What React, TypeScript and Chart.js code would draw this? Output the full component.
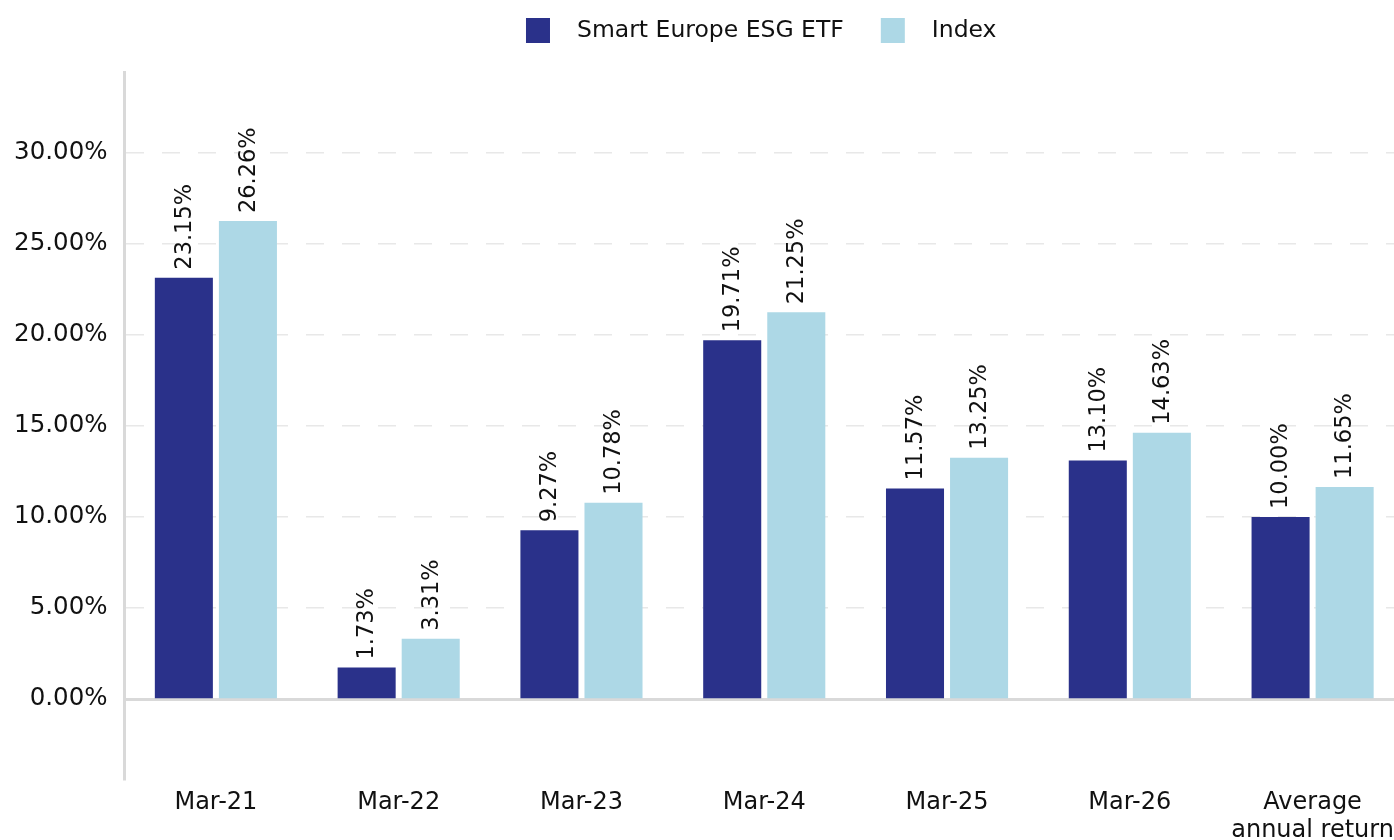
import React, { useEffect, useRef } from "react";
import { Chart, registerables } from "chart.js";

Chart.register(...registerables);

const categories: (string | string[])[] = ["Mar-21", "Mar-22", "Mar-23", "Mar-24", "Mar-25", "Mar-26", ["Average", "annual return"]];
const etfValues = [23.15, 1.73, 9.27, 19.71, 11.57, 13.1, 10.0];
const indexValues = [26.26, 3.31, 10.78, 21.25, 13.25, 14.63, 11.65];
const seriesNames = ["Smart Europe ESG ETF", "Index"];
const seriesColors = ["#2a318a", "#add8e6"];
const yTicks = [0, 5, 10, 15, 20, 25, 30];

const FONT = "'DejaVu Sans', Verdana, sans-serif";
const TEXT = "#111111";

const legendPlugin = {
  id: "customLegend",
  afterDraw(chart: any) {
    const ctx = chart.ctx;
    const ca = chart.chartArea;
    ctx.save();
    ctx.font = `23.5px ${FONT}`;
    const box = 24, gapText = 27, gapItem = 37;
    const widths = seriesNames.map((n) => ctx.measureText(n).width);
    let total = 0;
    widths.forEach((w, i) => { total += box + gapText + w + (i < widths.length - 1 ? gapItem : 0); });
    let x = (ca.left + ca.right) / 2 - total / 2 - 3;
    const cy = 30;
    ctx.textBaseline = "middle";
    ctx.textAlign = "left";
    seriesNames.forEach((n, i) => {
      ctx.fillStyle = seriesColors[i];
      ctx.fillRect(x, cy - box / 2, box, box + 1);
      x += box + gapText;
      ctx.fillStyle = TEXT;
      ctx.fillText(n, x, cy + 1);
      x += widths[i] + gapItem;
    });
    ctx.restore();
  },
};

const zeroLinePlugin = {
  id: "zeroLine",
  beforeDatasetsDraw(chart: any) {
    const ctx = chart.ctx;
    const ca = chart.chartArea;
    const y = chart.scales.y.getPixelForValue(0);
    ctx.save();
    ctx.strokeStyle = "#d9d9d9";
    ctx.lineWidth = 3;
    ctx.beginPath();
    ctx.moveTo(ca.left, y + 0.5);
    ctx.lineTo(ca.right, y + 0.5);
    ctx.stroke();
    ctx.restore();
  },
};

const dataLabelPlugin = {
  id: "dataLabels",
  afterDatasetsDraw(chart: any) {
    const ctx = chart.ctx;
    ctx.save();
    ctx.font = `22.5px ${FONT}`;
    ctx.fillStyle = TEXT;
    ctx.textAlign = "left";
    ctx.textBaseline = "middle";
    chart.data.datasets.forEach((ds: any, di: number) => {
      const meta = chart.getDatasetMeta(di);
      meta.data.forEach((el: any, i: number) => {
        const v = ds.data[i] as number;
        ctx.save();
        ctx.translate(el.x + 1, el.y - 8);
        ctx.rotate(-Math.PI / 2);
        ctx.fillText(v.toFixed(2) + "%", 0, 0);
        ctx.restore();
      });
    });
    ctx.restore();
  },
};

export default function App() {
  const ref = useRef<HTMLCanvasElement | null>(null);
  useEffect(() => {
    if (!ref.current) return;
    const chart = new Chart(ref.current, {
      type: "bar",
      data: {
        labels: categories as any,
        datasets: [
          { label: seriesNames[0], data: etfValues, backgroundColor: seriesColors[0], categoryPercentage: 0.701, barPercentage: 0.906 },
          { label: seriesNames[1], data: indexValues, backgroundColor: seriesColors[1], categoryPercentage: 0.701, barPercentage: 0.906 },
        ],
      },
      options: {
        responsive: false,
        animation: false,
        layout: { padding: { top: 72, left: 0, right: 0, bottom: 0 } },
        plugins: { legend: { display: false }, tooltip: { enabled: false } },
        scales: {
          x: {
            grid: { display: false, drawTicks: false },
            border: { display: false },
            ticks: { color: TEXT, font: { family: FONT, size: 24, lineHeight: 1.2 }, padding: 8, maxRotation: 0, autoSkip: false },
            afterFit(scale: any) { scale.height = 60; },
          },
          y: {
            min: -4.45,
            max: 34.45,
            afterBuildTicks(scale: any) { scale.ticks = yTicks.map((v) => ({ value: v })); },
            afterFit(scale: any) { scale.width = 124.5; },
            grid: { color: "#e8e8e8", lineWidth: 1.5, drawTicks: false },
            border: { display: true, color: "#d9d9d9", width: 3, dash: [18, 18] },
            ticks: {
              color: TEXT,
              font: { family: FONT, size: 24.5 },
              padding: 17,
              callback: (v: any) => Number(v).toFixed(2) + "%",
            },
          },
        },
      },
      plugins: [legendPlugin, zeroLinePlugin, dataLabelPlugin],
    });
    return () => chart.destroy();
  }, []);
  return (
    <div style={{ position: "fixed", left: 0, top: 0, width: "100vw", height: "100vh", overflow: "hidden", background: "#fff" }}>
      <canvas ref={ref} width={1404} height={840} style={{ display: "block" }} />
    </div>
  );
}
